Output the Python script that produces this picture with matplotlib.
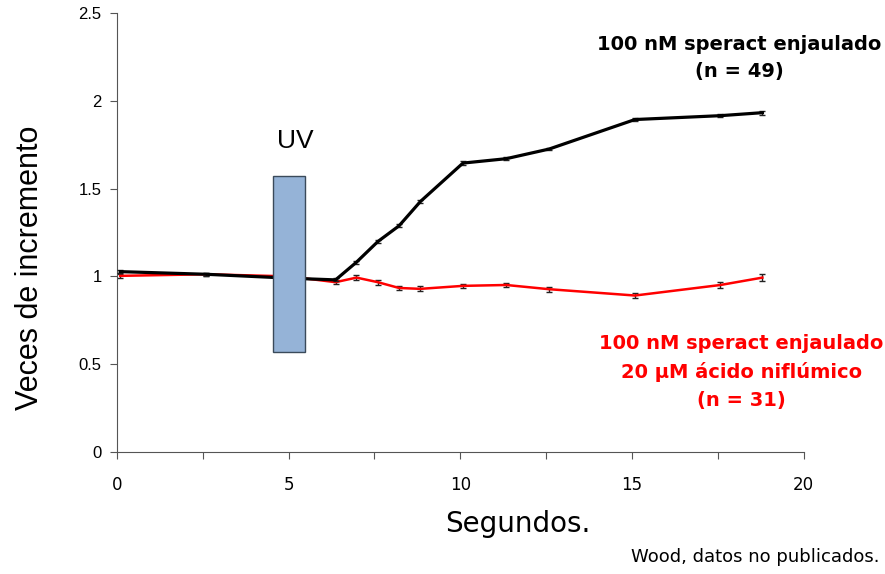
import matplotlib.pyplot as plt
from matplotlib.patches import Rectangle

# time points (s)
t = [0.1, 2.6, 5.0, 6.37, 6.98, 7.6, 8.22, 8.84, 10.08, 11.34, 12.59, 15.09, 17.58, 18.8]

black_y = [1.027, 1.012, 0.99, 0.98, 1.081, 1.198, 1.288, 1.426, 1.645, 1.67, 1.725, 1.893, 1.915, 1.932]
black_err = [0.008, 0.008, 0.008, 0.008, 0.008, 0.008, 0.008, 0.008, 0.01, 0.01, 0.008, 0.01, 0.01, 0.012]

red_y = [1.003, 1.012, 1.0, 0.967, 0.993, 0.967, 0.934, 0.929, 0.946, 0.951, 0.927, 0.891, 0.951, 0.993]
red_err = [0.01, 0.01, 0.01, 0.012, 0.016, 0.014, 0.012, 0.014, 0.012, 0.014, 0.014, 0.014, 0.016, 0.02]

uv_start, uv_end = 4.55, 5.47
uv_low, uv_high = 0.57, 1.573

xticks = [0, 2.5, 5, 7.5, 10, 12.5, 15, 17.5, 20]
xlabels = ['0', '', '5', '', '10', '', '15', '', '20']
yticks = [0, 0.5, 1, 1.5, 2, 2.5]
ylabels = ['0', '0.5', '1', '1.5', '2', '2.5']

plt.rcParams['font.family'] = ['Liberation Sans', 'DejaVu Sans']
wide = ['DejaVu Sans']

fig = plt.figure(figsize=(8.85, 5.74), dpi=100)
ax = fig.add_axes([0.132, 0.2125, 0.776, 0.765])

ax.errorbar(t, red_y, yerr=red_err, color='#ff0000', lw=1.8, ecolor='#222222',
            elinewidth=1, capsize=2.5, capthick=1, zorder=2)
ax.errorbar(t, black_y, yerr=black_err, color='black', lw=2.3, ecolor='#222222',
            elinewidth=1, capsize=2.5, capthick=1, zorder=3)

ax.add_patch(Rectangle((uv_start, uv_low), uv_end - uv_start, uv_high - uv_low,
                       facecolor='#95b3d7', edgecolor='#3a4a5a', lw=1, zorder=4))
ax.text((uv_start + uv_end) / 2 + 0.2, 1.7, 'UV', fontsize=19, ha='center', va='bottom')

ax.set_xlim(0, 20)
ax.set_ylim(0, 2.5)
ax.set_xticks(xticks)
ax.set_xticklabels(xlabels, fontsize=12, family=wide)
ax.set_yticks(yticks)
ax.set_yticklabels(ylabels, fontsize=12)
ax.tick_params(axis='x', direction='out', length=5, pad=12, color='#555555')
ax.tick_params(axis='y', direction='out', length=5, pad=6, color='#555555')
for s in ['top', 'right']:
    ax.spines[s].set_visible(False)
for s in ['left', 'bottom']:
    ax.spines[s].set_color('#555555')

ax.set_xlabel('Segundos.', fontsize=20, family=wide)
ax.xaxis.set_label_coords(0.584, -0.133)
ax.set_ylabel('Veces de incremento', fontsize=22)
ax.yaxis.set_label_coords(-0.104, 0.42)

fig.text(0.835, 0.899, '100 nM speract enjaulado\n(n = 49)', fontsize=14,
         fontweight='bold', family=wide, ha='center', va='center', linespacing=1.55)
fig.text(0.838, 0.352, '100 nM speract enjaulado\n20 \u00b5M \u00e1cido nifl\u00famico\n(n = 31)',
         fontsize=14, fontweight='bold', family=wide, color='#ff0000', ha='center',
         va='center', linespacing=1.6)
fig.text(0.994, 0.03, 'Wood, datos no publicados.', fontsize=13, family=wide,
         ha='right', va='center')

fig.savefig('out.png', dpi=100)
